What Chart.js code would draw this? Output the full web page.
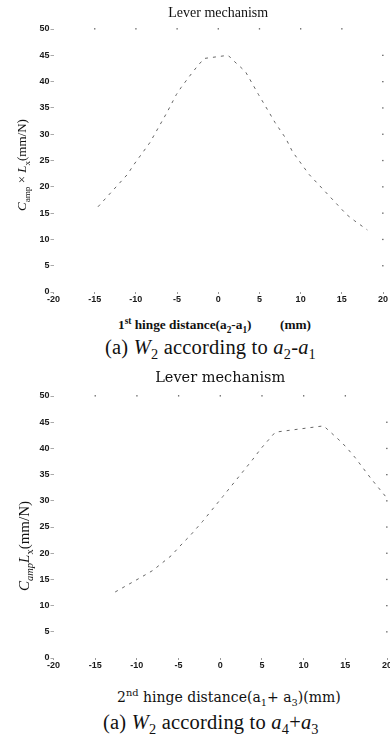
<!DOCTYPE html>
<html><head><meta charset="utf-8">
<script src="https://cdn.jsdelivr.net/npm/chart.js@4.4.1/dist/chart.umd.min.js"></script>
<style>
html,body{margin:0;padding:0;background:#fff;width:390px;height:735px;overflow:hidden;position:relative}
.wrap{position:absolute;left:0;width:390px}
.t{position:absolute;white-space:nowrap;color:#111;line-height:16px}
.serif{font-family:'Liberation Serif','Times New Roman',serif}
.dserif{font-family:'DejaVu Serif',serif}
sub,sup{font-size:70%;line-height:0}
.rot{transform:rotate(-90deg);transform-origin:center center;text-align:center}
.cap{line-height:22px}
</style></head><body>
<div class="wrap" style="top:0;height:305px"><canvas id="c1"></canvas></div>
<div class="wrap" style="top:365px;height:306px"><canvas id="c2"></canvas></div>

<div class="t serif rot" style="left:-48px;top:157px;width:140px;font-size:13px"><i>C</i><sub>amp</sub> × <i>L</i><sub>x</sub>(mm/N)</div>
<div class="t serif" style="left:118px;top:317px;font-size:13.3px;font-weight:bold">1<sup>st</sup> hinge distance(a<sub>2</sub>-a<sub>1</sub>)</div>
<div class="t serif" style="left:280px;top:317px;font-size:13.3px;font-weight:bold">(mm)</div>
<div class="t serif cap" style="left:105px;top:336px;font-size:20.5px;letter-spacing:0.2px">(a) <i>W</i><sub>2</sub> according to <i>a</i><sub>2</sub>-<i>a</i><sub>1</sub></div>

<div class="t serif rot" style="left:-46px;top:538px;width:140px;font-size:15px"><i>C</i><sub><i>amp</i></sub><i>L</i><sub>x</sub>(mm/N)</div>
<div class="t dserif" style="left:117px;top:689px;font-size:14px">2<sup>nd</sup> hinge distance(a<sub>1</sub>+ a<sub>3</sub>)(mm)</div>
<div class="t serif cap" style="left:103px;top:711px;font-size:20.5px;letter-spacing:0.2px">(a) <i>W</i><sub>2</sub> according to <i>a</i><sub>4</sub>+<i>a</i><sub>3</sub></div>

<script>
// Chart 1: W2 according to a2-a1
const x1 = [-14.6, -11.0, -10.3, -8.3, -6.2, -5.1, -4.5, -3.5, -2.5, -1.7, 1.2, 1.7, 3.3, 4.9, 5.7, 6.9, 8.2, 9.0, 9.65, 11.0, 15.6, 16.5, 18.1];
const y1 = [16.2, 22.4, 24.1, 28.4, 34.2, 37.5, 38.9, 41.0, 43.0, 44.4, 45.0, 44.2, 41.9, 37.5, 35.4, 32.2, 29.2, 26.7, 25.3, 22.4, 14.7, 13.6, 11.8];
// Chart 2: W2 according to a4+a3
const x2 = [-12.6, -9.5, -8.1, -5.9, -4.4, -3.7, -2.1, 0.3, 3.85, 4.9, 6.6, 12.4, 14.6, 15.4, 16.2, 18.1, 20.0];
const y2 = [12.6, 15.4, 16.7, 19.5, 22.1, 23.2, 26.1, 30.8, 37.8, 40.0, 43.1, 44.3, 41.1, 39.7, 38.2, 34.2, 30.5];
// Axes
const xTickMin = -20, xTickMax = 20, xTickStep = 5;
const yTickMin = 0, yTickMax = 50, yTickStep = 5;
const chartTitle = 'Lever mechanism';

const mirrorTicks = {
  id: 'mirrorTicks',
  afterDraw(chart) {
    const {ctx, chartArea: a, scales: {x, y}} = chart;
    ctx.save();
    ctx.fillStyle = '#777';
    x.ticks.forEach((t, i) => {
      if (i === 0 || i === x.ticks.length - 1) return;
      const px = x.getPixelForTick(i);
      ctx.fillRect(px - 0.6, a.top - 1, 1.3, 1.6);
    });
    y.ticks.forEach((t, i) => {
      if (i === 0 || i === y.ticks.length - 1) return;
      const py = y.getPixelForTick(i);
      ctx.fillRect(a.right - 1, py - 0.6, 1.6, 1.3);
    });
    ctx.restore();
  }
};

function makeChart(id, xs, ys, cfg) {
  return new Chart(document.getElementById(id), {
    type: 'line',
    data: {
      datasets: [{
        data: xs.map((x, i) => ({x: x, y: ys[i]})),
        borderColor: '#666',
        borderWidth: 1,
        borderDash: [3, 5],
        pointRadius: 0,
        tension: 0,
        fill: false
      }]
    },
    options: {
      responsive: true,
      maintainAspectRatio: false,
      animation: false,
      events: [],
      layout: {padding: {top: 0, left: 0, right: cfg.right, bottom: 0}},
      plugins: {
        legend: {display: false},
        tooltip: {enabled: false},
        title: {
          display: true,
          text: chartTitle,
          fullSize: false,
          color: '#111',
          font: {family: cfg.titleFamily, size: cfg.titleSize, weight: 'normal'},
          padding: {top: cfg.titleTop, bottom: cfg.titleBottom}
        }
      },
      scales: {
        x: {
          type: 'linear',
          min: xTickMin, max: xTickMax,
          ticks: {stepSize: xTickStep, padding: 0, maxRotation: 0, color: '#1a1a1a',
                  font: {family: 'Liberation Sans', size: 9, weight: 'bold'}},
          grid: {drawOnChartArea: false, drawTicks: true, tickLength: 2, tickColor: '#999'},
          border: {display: false},
          afterFit(s) { s.height = 13; s.paddingLeft = 0; s.paddingRight = 0; }
        },
        y: {
          min: yTickMin, max: yTickMax,
          ticks: {stepSize: yTickStep, padding: 1, color: '#1a1a1a',
                  font: {family: 'Liberation Sans', size: 9, weight: 'bold'}},
          grid: {drawOnChartArea: false, drawTicks: true, tickLength: 3, tickColor: '#aaa'},
          border: {display: false},
          afterFit(s) { s.width = 53.5; s.paddingTop = 0; s.paddingBottom = 0; }
        }
      }
    },
    plugins: [mirrorTicks]
  });
}

makeChart('c1', x1, y1, {right: 7, titleFamily: 'Liberation Serif', titleSize: 14, titleTop: 4.6, titleBottom: 7.6});
makeChart('c2', x2, y2, {right: 3, titleFamily: 'DejaVu Serif', titleSize: 14.5, titleTop: 4.3, titleBottom: 9.3});
</script>
</body></html>
